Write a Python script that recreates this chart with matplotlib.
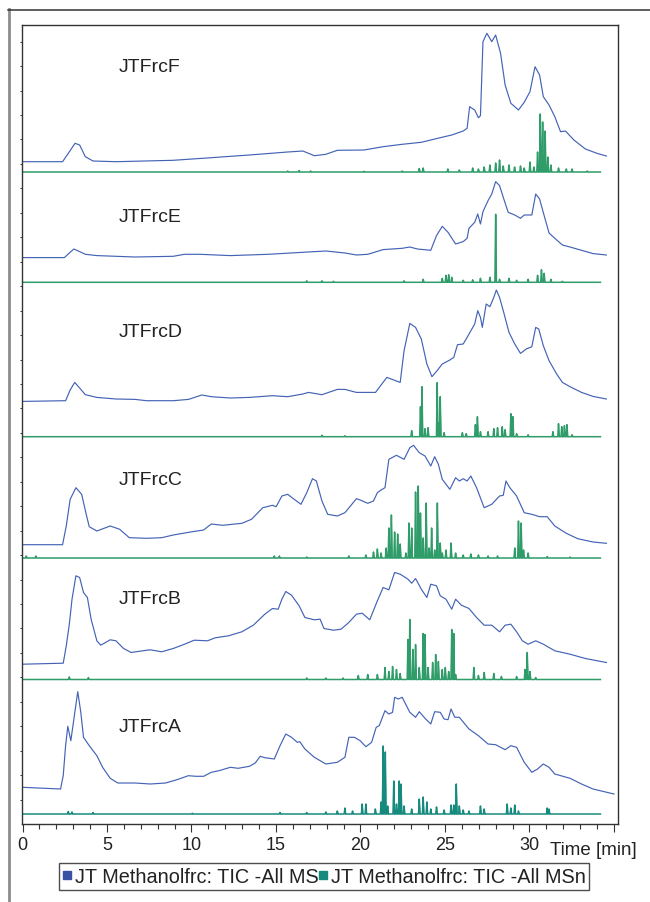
import numpy as np
import matplotlib
matplotlib.use("Agg")
import matplotlib.pyplot as plt
from matplotlib.lines import Line2D
from matplotlib.ticker import MultipleLocator

plt.rcParams['font.family'] = ['Liberation Sans', 'DejaVu Sans']

# ---- traces: time [min] / intensity (arb. units) ----
# JTFrcF
F_ms_t = [0, 2.37, 2.71, 3.11, 3.38, 3.72, 4.17, 5.53, 8.92, 11.17, 13.43, 15.69, 16.59,
          17.27, 17.95, 18.63, 20.21, 21.34, 22.47, 23.60, 24.72, 25.40, 26.08, 26.31, 26.46,
          26.76, 26.98, 27.10, 27.25, 27.48, 27.77, 28.00, 28.29, 28.56, 28.90, 29.35, 29.69,
          30.03, 30.33, 30.60, 30.82, 31.16, 31.50, 31.84, 32.13, 32.63, 33.31, 33.99, 34.55]
F_ms_i = [10.3, 10.3, 18.7, 28.7, 27, 15.3, 11, 10.3, 11.7, 14.3, 17, 20, 21,
          16.3, 17.7, 21.7, 22, 25.3, 27.7, 29.7, 34.3, 37, 41, 43.7, 65.3,
          62, 54.3, 56.3, 130.3, 138.7, 130.3, 137, 118.7, 87, 68.7, 62, 69.7,
          80.3, 105.3, 97, 75.3, 67, 55.3, 40.3, 41, 32, 23, 18.7, 16]
F_msn_t = [15.69, 16.37, 17.05, 20.21, 22.47, 23.48, 23.71, 25.17, 25.85, 26.64, 26.98,
           27.32, 27.66, 28.00, 28.23, 28.45, 28.79, 29.12, 29.47, 29.69, 30.03, 30.26,
           30.48, 30.64, 30.78, 30.93, 31.09, 31.27, 31.72, 32.18, 32.52, 33.42]
F_msn_i = [1, 1.5, 1, 0.7, 1, 3.5, 4, 3, 2, 4, 3,
           5, 7, 9, 12, 6, 7, 5, 6, 4, 10, 5,
           20, 58, 50, 41, 15, 7, 4, 3, 3, 1]

# JTFrcE
E_ms_t = [0, 2.48, 2.77, 3.04, 3.38, 3.72, 4.40, 6.66, 8.92, 9.59, 10.50, 12.30, 14.56,
          16.59, 17.95, 19.08, 19.76, 20.43, 21.34, 22.47, 22.92, 23.37, 24.16, 24.50, 24.84,
          25.18, 25.63, 26.08, 26.31, 26.42, 26.76, 26.94, 27.10, 27.25, 27.55, 27.77, 28.00,
          28.23, 28.45, 28.74, 29.13, 29.47, 29.69, 30.14, 30.37, 30.60, 30.87, 31.16, 31.50,
          31.95, 32.40, 33.08, 33.76, 34.55]
E_ms_i = [24.7, 24.7, 29.3, 33.3, 30.7, 28, 26.7, 25.3, 26, 28, 28, 26.7, 28,
          30, 31.3, 29.3, 27.3, 28, 32.7, 34, 35.3, 33.3, 32, 46.7, 56,
          50, 38.3, 40.7, 44, 54, 60, 68.3, 58.3, 70.7, 81.7, 88.3, 100.7,
          96.7, 85, 70, 67.3, 64, 67.3, 67.3, 88.3, 83.3, 66.7, 49.3, 44,
          37.3, 35.3, 32, 28.7, 27.3]
E_msn_t = [16.82, 17.72, 18.40, 22.58, 23.71, 24.84, 25.06, 25.22, 25.40, 26.08, 26.64,
           27.10, 27.66, 28.00, 28.23, 28.79, 29.24, 29.92, 30.48, 30.71, 30.87, 31.27, 31.95]
E_msn_i = [1.5, 1.5, 1, 1.5, 3, 4, 7, 7.5, 5, 2, 2.5,
           4, 5, 68, 3, 4, 2, 3, 7, 12.5, 9, 3, 1]

# JTFrcD
D_ms_t = [0, 2.55, 2.82, 3.09, 3.38, 3.72, 4.40, 5.53, 6.66, 7.34, 8.92, 9.82, 10.61,
          11.17, 12.30, 13.43, 14.79, 15.69, 16.59, 16.93, 17.72, 18.63, 19.08, 19.76, 20.89,
          21.56, 22.35, 22.58, 22.92, 23.26, 23.60, 23.93, 24.23, 24.50, 24.84, 25.29, 25.52,
          25.74, 26.08, 26.31, 26.76, 26.94, 27.10, 27.21, 27.44, 27.66, 27.89, 28.04, 28.23,
          28.45, 28.79, 29.13, 29.47, 29.81, 30.14, 30.37, 30.55, 30.82, 31.16, 31.61, 31.95,
          32.40, 33.08, 33.76, 34.55]
D_ms_i = [35.3, 36, 46.7, 54.3, 48.7, 42, 39.3, 37.7, 37.3, 36, 36, 37.3, 41.7,
          40, 38.7, 39.3, 41, 40, 42.7, 44.3, 42, 47.3, 47.3, 44.3, 44.3,
          59.3, 54.3, 86, 113.3, 109.3, 97.7, 72.7, 60, 65.3, 72.7, 76.7, 79.3,
          92, 92.7, 99.3, 112.7, 126, 119.3, 109.3, 132.7, 130, 139.3, 146.7, 139.3,
          126, 104.3, 92.7, 83.3, 87.7, 90, 109.3, 107.7, 91, 76, 62.7, 54.3,
          50, 44.3, 40.3, 37.7]
D_msn_t = [17.72, 19.08, 23.03, 23.55, 23.64, 23.82, 24.00, 24.54, 24.63, 24.72, 24.95,
           26.03, 26.26, 26.80, 26.92, 27.10, 27.55, 27.89, 28.11, 28.39, 28.56, 28.90,
           29.02, 29.24, 29.92, 31.39, 31.72, 31.91, 32.07, 32.22, 32.52]
D_msn_i = [1.5, 1, 6, 30, 50, 8, 9, 54, 14, 40, 4,
           4, 3, 12, 20, 5, 5, 8, 9, 10, 7, 23,
           20, 3, 2, 5, 13, 10, 11, 12, 2]

# JTFrcC
C_ms_t = [0, 2.37, 2.59, 2.82, 3.16, 3.50, 3.77, 3.95, 4.40, 5.19, 5.75, 6.32, 7.34,
          8.24, 8.92, 10.05, 10.72, 11.17, 11.85, 12.98, 13.55, 14.22, 14.79, 15.01, 15.35,
          15.69, 16.03, 16.48, 16.82, 17.16, 17.39, 17.72, 18.06, 18.63, 19.08, 19.76, 19.98,
          20.43, 20.77, 21.00, 21.22, 21.45, 21.68, 22.13, 22.58, 22.92, 23.14, 23.48, 23.82,
          24.16, 24.39, 24.61, 24.84, 25.29, 25.63, 25.85, 26.08, 26.31, 26.53, 26.87, 27.32,
          27.77, 28.23, 28.45, 28.61, 28.84, 29.24, 29.69, 30.14, 30.60, 31.05, 31.50, 32.18,
          32.86, 33.76, 34.55]
C_ms_i = [13.3, 13.3, 32, 58.7, 70.3, 63.7, 43.7, 31.3, 27, 32, 28.7, 20.3, 19.7,
          20.3, 23, 26.3, 28, 34, 32.7, 34.7, 38.7, 50.3, 52.7, 51.3, 62,
          63.7, 59.3, 53.7, 65.3, 79.3, 77, 57, 43.7, 42, 45.3, 59.3, 58,
          54.7, 57, 65.3, 68, 70.3, 98.7, 102.7, 98.7, 110.3, 112.7, 105.3, 102,
          92, 101.3, 93.7, 78.7, 68.7, 80.3, 77, 79.3, 77, 82, 70.3, 50.3,
          53.7, 62, 62.7, 77, 70.3, 62, 45.3, 43.7, 41.3, 41.3, 32, 24.7,
          19.3, 16, 14.7]
C_msn_t = [0.22, 0.79, 14.90, 15.20, 16.82, 19.31, 20.32, 20.77, 21.00, 21.22, 21.52,
           21.68, 21.83, 22.02, 22.20, 22.35, 22.69, 22.87, 23.03, 23.26, 23.42, 23.55,
           23.71, 23.89, 24.06, 24.21, 24.39, 24.55, 24.72, 24.84, 25.06, 25.36, 25.63,
           26.08, 26.53, 26.98, 27.55, 28.11, 29.13, 29.35, 29.51, 29.65, 29.92, 31.05, 32.40]
C_msn_i = [2, 2, 2, 2, 1, 2, 3, 6, 9, 5, 10,
           30, 43, 26, 24, 14, 5, 35, 30, 66, 72, 45,
           20, 55, 10, 30, 8, 55, 15, 5, 8, 15, 5,
           3, 4, 3, 2, 2, 10, 37, 35, 8, 5, 1.5, 1]

# JTFrcB
B_ms_t = [0, 2.41, 2.59, 2.77, 2.93, 3.16, 3.38, 3.61, 3.84, 4.06, 4.40, 4.63, 5.19,
          5.53, 5.98, 6.43, 7.11, 7.56, 8.24, 8.92, 9.59, 10.16, 10.95, 11.40, 12.19,
          12.98, 13.66, 14.34, 14.79, 15.13, 15.35, 15.58, 15.92, 16.37, 16.71, 17.27, 17.61,
          17.84, 18.40, 18.85, 19.31, 19.76, 20.10, 20.55, 21.00, 21.34, 21.68, 22.02, 22.35,
          22.81, 23.03, 23.26, 23.60, 23.93, 24.16, 24.50, 24.72, 25.06, 25.40, 25.63, 25.97,
          26.42, 26.87, 27.32, 27.77, 28.23, 28.56, 28.90, 29.24, 29.58, 29.92, 30.37, 30.82,
          31.50, 32.40, 33.31, 34.55]
B_ms_i = [15.3, 16.3, 33.7, 55.3, 80.3, 103.7, 102, 87, 82, 60.3, 38.7, 34.3, 39.7,
          38.7, 31, 27, 28.7, 29.7, 27.7, 31, 35.3, 39.3, 38.7, 41.7, 43.7,
          47.7, 54.3, 65.3, 71, 70.3, 80.3, 88, 84.3, 73.7, 62, 59.7, 60.3,
          51, 49.3, 50.3, 57, 65.3, 66.3, 59.7, 78.7, 92, 89.7, 107, 105.3,
          100.3, 96.3, 101, 90.3, 82, 95.3, 93.7, 83.7, 80.3, 70.3, 80.3, 74.3,
          71, 62, 54.3, 54.3, 47.7, 54.3, 55.3, 47.7, 38.7, 35.3, 38.7, 35.3,
          28.7, 25.3, 21, 17]
B_msn_t = [2.77, 3.90, 16.82, 17.95, 18.97, 19.87, 20.43, 21.00, 21.45, 21.68, 21.90,
           22.13, 22.35, 22.81, 22.92, 23.10, 23.26, 23.48, 23.71, 23.82, 24.00, 24.27,
           24.45, 24.61, 24.84, 25.02, 25.22, 25.40, 25.52, 25.63, 26.71, 26.98, 27.32,
           27.89, 28.34, 29.24, 29.74, 29.87, 30.03, 30.37]
B_msn_i = [2.5, 2, 1.5, 1.5, 1.5, 4, 5, 5, 12, 8, 13,
           10, 6, 40, 60, 30, 35, 12, 46, 45, 12, 17,
           25, 18, 10, 12, 8, 50, 46, 5, 12, 4, 7,
           6, 3, 3, 10, 27, 8, 2]

# JTFrcA
A_ms_t = [0, 2.25, 2.41, 2.55, 2.68, 2.86, 3.04, 3.27, 3.45, 3.61, 3.95, 4.40, 4.74,
          5.19, 5.64, 6.66, 7.56, 8.47, 9.14, 9.82, 10.27, 10.72, 11.17, 11.63, 12.30,
          12.76, 13.43, 13.77, 14.07, 14.34, 14.90, 15.24, 15.58, 15.92, 16.26, 16.41, 16.71,
          17.27, 17.95, 18.63, 19.08, 19.31, 19.64, 19.98, 20.32, 20.66, 20.93, 21.11, 21.45,
          21.68, 21.90, 22.02, 22.24, 22.47, 22.92, 23.26, 23.48, 23.82, 24.16, 24.39, 24.72,
          24.95, 25.18, 25.36, 25.58, 25.85, 26.42, 26.98, 27.55, 28.00, 28.56, 28.90, 29.24,
          29.69, 30.14, 30.48, 30.82, 31.16, 31.50, 32.40, 33.08, 33.76, 35.00]
A_ms_i = [26.7, 25, 38.3, 68.3, 87.7, 73.3, 95, 122.3, 101.7, 76.7, 68.3, 58.3, 46.7,
          35.7, 31, 31, 30, 31, 34.3, 38.3, 37.7, 37.7, 41.7, 43.3, 46.7,
          45.7, 47.7, 51, 57.7, 56.3, 55, 68.3, 80, 76.7, 71.7, 72.3, 65,
          56.7, 50, 51.7, 56.7, 76.7, 76.7, 73.3, 67.3, 71.7, 86.7, 88.3, 103.3,
          100, 101.7, 116.7, 115, 116.7, 101.7, 96.7, 102.3, 95.7, 90, 102.3, 101.7,
          95, 94.3, 105, 96.7, 96.7, 85, 78.3, 70, 69.3, 64.3, 68.3, 66.7,
          51.7, 41.7, 45, 50, 46.7, 40, 35.7, 30, 25, 20]
A_msn_t = [2.71, 2.93, 4.17, 10.05, 15.24, 16.82, 17.95, 18.63, 19.08, 19.53, 20.10,
           20.32, 20.88, 21.22, 21.34, 21.47, 21.61, 21.97, 22.13, 22.29, 22.40, 22.58,
           23.03, 23.48, 23.71, 23.93, 24.16, 24.50, 24.95, 25.36, 25.52, 25.67, 25.85,
           26.08, 26.42, 27.10, 27.32, 28.68, 28.90, 29.13, 29.35, 31.05, 31.16]
A_msn_i = [2.5, 2, 1.5, 0.7, 1.5, 1.5, 2, 3, 6, 3, 10,
           10, 5, 12, 68, 62, 8, 33, 10, 33, 30, 8,
           5, 15, 17, 12, 5, 7, 4, 9, 9, 30, 8,
           4, 3, 8, 5, 10, 6, 9, 3, 6, 5]

sample_names = ['JTFrcF', 'JTFrcE', 'JTFrcD', 'JTFrcC', 'JTFrcB', 'JTFrcA']
legend_labels = ['JT Methanolfrc: TIC -All MS', 'JT Methanolfrc: TIC -All MSn']

# ---- layout / style ----
BLUE = '#4463b6'
GREEN = '#2f9c69'
TEAL = '#178a7e'

# vertical offset of each stacked trace and height of its name label (axis units)
panels = [
    (F_ms_t, F_ms_i, F_msn_t, F_msn_i, 652.0, 101.0, GREEN),
    (E_ms_t, E_ms_i, E_msn_t, E_msn_i, 541.7, 61.6, GREEN),
    (D_ms_t, D_ms_i, D_msn_t, D_msn_i, 387.3, 101.0, GREEN),
    (C_ms_t, C_ms_i, C_msn_t, C_msn_i, 266.0, 74.0, GREEN),
    (B_ms_t, B_ms_i, B_msn_t, B_msn_i, 144.5, 76.5, GREEN),
    (A_ms_t, A_ms_i, A_msn_t, A_msn_i, 10.0, 83.3, TEAL),
]
MSN_END = 34.2


def spike_trace(t, h, end, w=0.045):
    # narrow peaks on a flat baseline for the MSn trace
    xs, ys = [0.0], [0.0]
    for ti, hi in zip(t, h):
        xs += [ti - w, ti, ti + w]
        ys += [0.0, hi, 0.0]
    xs.append(end)
    ys.append(0.0)
    return np.array(xs), np.array(ys)


W, H = 650, 903
fig = plt.figure(figsize=(W / 100, H / 100), dpi=100)
ax = fig.add_axes([22 / W, 78 / H, 596 / W, 799 / H])

for (ms_t, ms_i, msn_t, msn_i, base, lab_y, col), name in zip(panels, sample_names):
    xs, ys = spike_trace(msn_t, msn_i, MSN_END)
    ax.fill_between(xs, base, base + ys, color=col, lw=0)
    ax.plot(xs, base + ys, color=col, lw=1.1)
    ax.plot(ms_t, base + np.array(ms_i), color=BLUE, lw=0.85)
    ax.text(5.7, base + lab_y, name, fontsize=14, color='#222222',
            ha='left', va='baseline')

ax.set_xlim(-0.03, 35.24)
ax.set_ylim(0, 799)

ax.xaxis.set_minor_locator(MultipleLocator(1))
ax.set_xticks(range(0, 36, 5))
ax.set_xticklabels(['0', '5', '10', '15', '20', '25', '30', ''])
ax.set_yticks(24.4 + 24.45 * np.arange(32))
ax.tick_params(axis='x', which='major', length=5.8, width=0.8, direction='out',
               color='#333333', labelsize=13, labelcolor='#222222', pad=2.5)
ax.tick_params(axis='x', which='minor', length=3.6, width=0.8, direction='out',
               color='#333333')
ax.tick_params(axis='y', which='major', length=1.5, width=0.7, direction='out',
               color='#333333', labelleft=False)
for sp in ax.spines.values():
    sp.set_color('#333333')
    sp.set_linewidth(1.0)

fig.text(550 / W, 1 - 855 / H, 'Time [min]', fontsize=13.5, color='#222222',
         ha='left', va='baseline')

# outer frame lines of the original page
fig.add_artist(Line2D([8.5 / W, 8.5 / W], [0, 1 - 10 / H], transform=fig.transFigure,
                      color='#8c8c8c', lw=2.0))
fig.add_artist(Line2D([7.5 / W, 1.0], [1 - 10.7 / H, 1 - 10.7 / H],
                      transform=fig.transFigure, color='#333333', lw=1.1))

handles = [Line2D([], [], ls='', marker='s', ms=5.5, color='#3a52a4'),
           Line2D([], [], ls='', marker='s', ms=5.5, color=TEAL)]
leg = fig.legend(handles, legend_labels, loc='lower left',
                 bbox_to_anchor=(59 / W, 12.5 / H), ncol=2, frameon=True,
                 fancybox=False, edgecolor='#222222', fontsize=14.3,
                 handlelength=0.45, handletextpad=0.15, columnspacing=0.0,
                 borderpad=0.2, borderaxespad=0)
leg.get_frame().set_linewidth(1.0)
for txt in leg.get_texts():
    txt.set_color('#222222')

fig.savefig('out.png', dpi=100)
